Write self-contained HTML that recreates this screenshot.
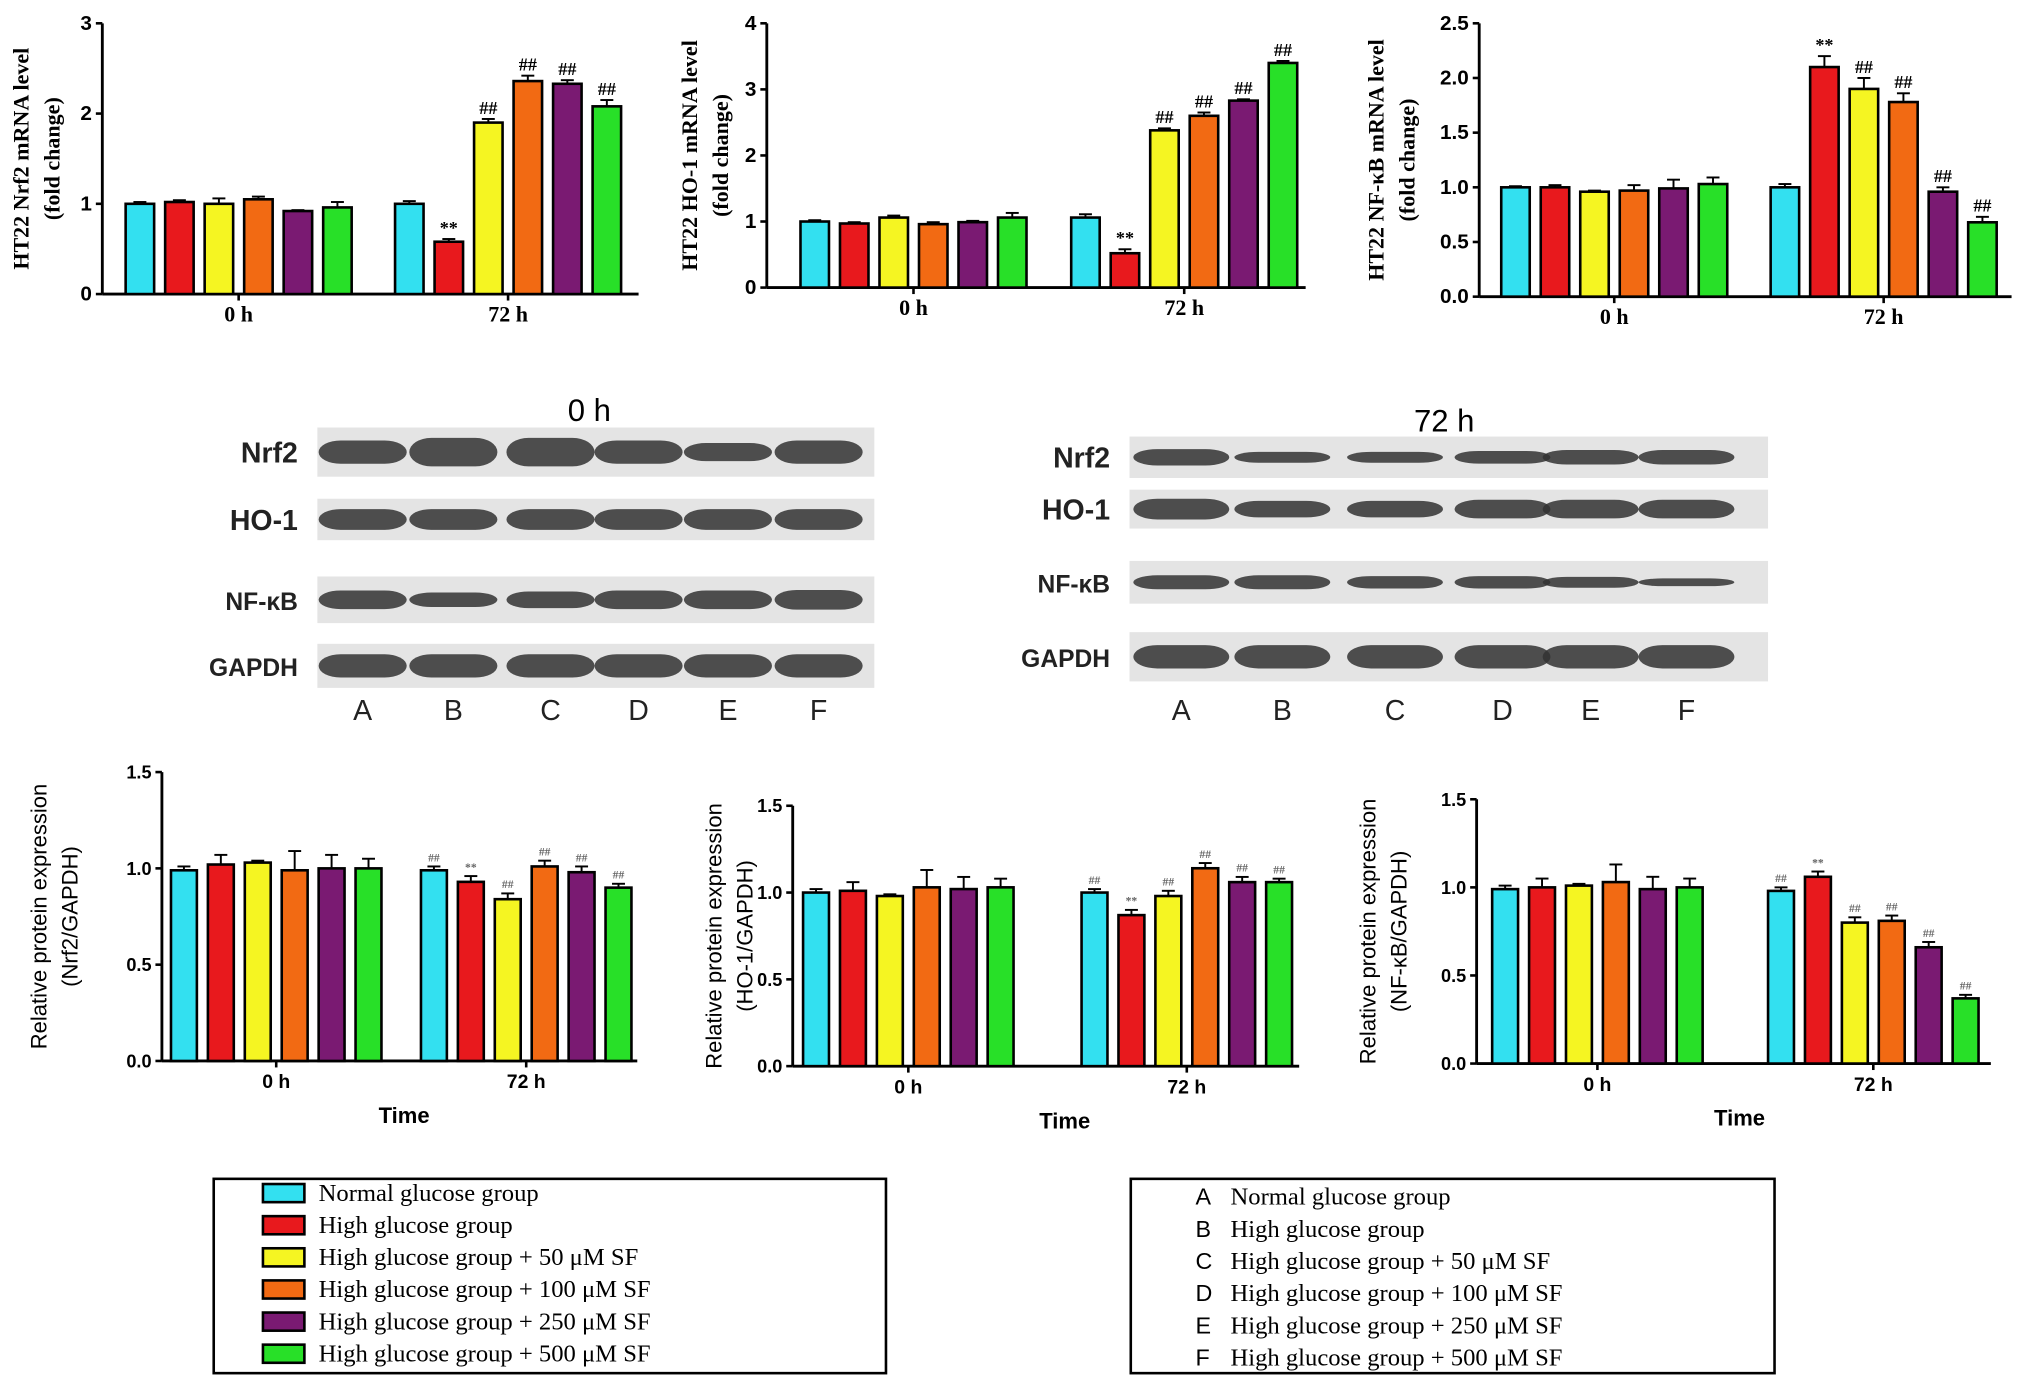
<!DOCTYPE html>
<html><head><meta charset="utf-8">
<style>
html,body{margin:0;padding:0;background:#fff;}
svg{display:block;}
text{font-family:"Liberation Serif",serif;}
.sans{font-family:"Liberation Sans",sans-serif;}
</style></head>
<body>
<svg id="fig" width="2031" height="1390" viewBox="0 0 1568 1073" preserveAspectRatio="none" xmlns="http://www.w3.org/2000/svg">
<rect x="0" y="0" width="1568" height="1073" fill="#fff"/>
</svg>
<script>
const groups = ["0 h", "72 h"];
const colors = ["#33e0f0", "#e8191d", "#f5f522", "#f26a13", "#7a1a72", "#28e028"];
const c1_0h = [1.0, 1.02, 1.0, 1.05, 0.92, 0.96];
const c1_72h = [1.0, 0.58, 1.9, 2.36, 2.33, 2.08];
const c1_err = [0.02, 0.02, 0.06, 0.03, 0.01, 0.06, 0.03, 0.03, 0.04, 0.06, 0.04, 0.07];
const c1_ticks = ["0", "1", "2", "3"];
const c2_0h = [1.0, 0.97, 1.06, 0.96, 0.99, 1.06];
const c2_72h = [1.06, 0.52, 2.38, 2.6, 2.83, 3.4];
const c2_err = [0.02, 0.02, 0.03, 0.03, 0.02, 0.07, 0.05, 0.06, 0.03, 0.05, 0.02, 0.03];
const c2_ticks = ["0", "1", "2", "3", "4"];
const c3_0h = [1.0, 1.0, 0.96, 0.97, 0.99, 1.03];
const c3_72h = [1.0, 2.1, 1.9, 1.78, 0.96, 0.68];
const c3_err = [0.01, 0.02, 0.01, 0.05, 0.08, 0.06, 0.03, 0.1, 0.1, 0.08, 0.04, 0.05];
const c3_ticks = ["0.0", "0.5", "1.0", "1.5", "2.0", "2.5"];
const b1_0h = [0.99, 1.02, 1.03, 0.99, 1.0, 1.0];
const b1_72h = [0.99, 0.93, 0.84, 1.01, 0.98, 0.9];
const b2_0h = [1.0, 1.01, 0.98, 1.03, 1.02, 1.03];
const b2_72h = [1.0, 0.87, 0.98, 1.14, 1.06, 1.06];
const b3_0h = [0.99, 1.0, 1.01, 1.03, 0.99, 1.0];
const b3_72h = [0.98, 1.06, 0.8, 0.81, 0.66, 0.37];
const b_err = [0.02, 0.05, 0.01, 0.1, 0.07, 0.05, 0.02, 0.03, 0.03, 0.03, 0.03, 0.02];
const b_ticks = ["0.0", "0.5", "1.0", "1.5"];
const c_marks = ["", "**", "##", "##", "##", "##"];
const b1_marks = ["##", "**", "##", "##", "##", "##"];
const legendLabels = ["Normal glucose group", "High glucose group", "High glucose group + 50 μM SF", "High glucose group + 100 μM SF", "High glucose group + 250 μM SF", "High glucose group + 500 μM SF"];
const lanes = ["A", "B", "C", "D", "E", "F"];

const NS = "http://www.w3.org/2000/svg";
const svg = document.getElementById("fig");
function mk(tag, attrs, parent, txt) {
  const e = document.createElementNS(NS, tag);
  for (const k in attrs) e.setAttribute(k, attrs[k]);
  if (txt !== undefined) e.textContent = txt;
  (parent || svg).appendChild(e);
  return e;
}

function chart(cfg) {
  const g = mk("g", {});
  
  
  const yScale = v => cfg.y0 - (v / cfg.max) * (cfg.y0 - cfg.y1);
  const ax = mk("line", {x1: cfg.ax, y1: cfg.y1, x2: cfg.ax, y2: cfg.y0, stroke: "#000", "stroke-width": 2.2}, g);
  
  
  const xa = mk("line", {x1: cfg.ax, y1: cfg.y0, x2: cfg.xEnd, y2: cfg.y0, stroke: "#000", "stroke-width": 2.2}, g);
  
  
  cfg.ticks.forEach((t) => {
    const v = parseFloat(t);
    const y = yScale(v);
    mk("line", {x1: cfg.ax - 5, y1: y, x2: cfg.ax, y2: y, stroke: "#000", "stroke-width": 2}, g);
    const tl = mk("text", {x: cfg.ax - 8, y: y + 5, "text-anchor": "end", "font-size": cfg.tickSize, "font-weight": "bold", class: "sans"}, g, t);
    
    
  });
  const sets = [cfg.d0, cfg.d1];
  sets.forEach((arr, gi) => {
    const gx = cfg.gx[gi];
    arr.forEach((v, i) => {
      const x = gx + i * cfg.pitch;
      const y = yScale(v);
      const e = cfg.err[gi * 6 + i];
      const ey = yScale(v + e);
      mk("line", {x1: x + cfg.bw / 2, y1: y, x2: x + cfg.bw / 2, y2: ey, stroke: "#000", "stroke-width": 1.5}, g);
      mk("line", {x1: x + cfg.bw / 2 - 5, y1: ey, x2: x + cfg.bw / 2 + 5, y2: ey, stroke: "#000", "stroke-width": 1.5}, g);
      const r = mk("rect", {x: x, y: y, width: cfg.bw, height: cfg.y0 - y, fill: colors[i], stroke: "#000", "stroke-width": 2}, g);
      
      
      if (gi === 1 && cfg.marks[i]) {
        const m = mk("text", {x: x + cfg.bw / 2, y: ey - 4, "text-anchor": "middle", "font-size": cfg.markSize, "font-weight": "bold", fill: cfg.markFill}, g, cfg.marks[i]);
        
        
      }
    });
    const cx = gx + (5 * cfg.pitch + cfg.bw) / 2;
    mk("line", {x1: cx, y1: cfg.y0, x2: cx, y2: cfg.y0 + 5, stroke: "#000", "stroke-width": 2}, g);
    const gl = mk("text", {x: cx, y: cfg.y0 + 21, "text-anchor": "middle", "font-size": cfg.sans ? 15 : 17, "font-weight": "bold", class: cfg.sans ? "sans" : ""}, g, groups[gi]);
    
    
  });
  if (cfg.time) {
    const t = mk("text", {x: cfg.time, y: cfg.y0 + 48, "text-anchor": "middle", "font-size": 17, "font-weight": "bold", class: "sans"}, g, "Time");
    
    
  }
  cfg.titles.forEach((tt, i) => {
    const x = cfg.tx + i * 24;
    const y = (cfg.y0 + cfg.y1) / 2;
    const t = mk("text", {x: x, y: y, transform: `rotate(-90 ${x} ${y})`, "text-anchor": "middle", "font-size": 17, "font-weight": cfg.sans ? "normal" : "bold", class: cfg.sans ? "sans" : ""}, g, tt);
    
    
  });
}

const topCfg = {bw: 22, pitch: 30.5, markSize: 14, markFill: "#000", sans: false, tickSize: 16};
chart(Object.assign({}, topCfg, {name: "chart-nrf2-mrna", ax: 79, y0: 227, y1: 18, max: 3, xEnd: 493, gx: [97, 305], d0: c1_0h, d1: c1_72h, err: c1_err, ticks: c1_ticks, marks: c_marks, titles: ["HT22 Nrf2 mRNA level", "(fold change)"], tx: 22}));
chart(Object.assign({}, topCfg, {name: "chart-ho1-mrna", ax: 592, y0: 222, y1: 18, max: 4, xEnd: 1008, gx: [618, 827], d0: c2_0h, d1: c2_72h, err: c2_err, ticks: c2_ticks, marks: c_marks, titles: ["HT22 HO-1 mRNA level", "(fold change)"], tx: 538}));
chart(Object.assign({}, topCfg, {name: "chart-nfkb-mrna", ax: 1142, y0: 229, y1: 18, max: 2.5, xEnd: 1553, gx: [1159, 1367], d0: c3_0h, d1: c3_72h, err: c3_err, ticks: c3_ticks, marks: c_marks, titles: ["HT22 NF-κB mRNA level", "(fold change)"], tx: 1068}));

const botCfg = {bw: 20, pitch: 28.5, markSize: 9, markFill: "#666", sans: true, tickSize: 14};
chart(Object.assign({}, botCfg, {name: "chart-nrf2-protein", ax: 125, y0: 819, y1: 596, max: 1.5, xEnd: 492, gx: [132, 325], d0: b1_0h, d1: b1_72h, err: b_err, ticks: b_ticks, marks: b1_marks, titles: ["Relative protein expression", "(Nrf2/GAPDH)"], tx: 36, time: 312}));
chart(Object.assign({}, botCfg, {name: "chart-ho1-protein", ax: 612, y0: 823, y1: 622, max: 1.5, xEnd: 1003, gx: [620, 835], d0: b2_0h, d1: b2_72h, err: b_err, ticks: b_ticks, marks: b1_marks, titles: ["Relative protein expression", "(HO-1/GAPDH)"], tx: 557, time: 822}));
chart(Object.assign({}, botCfg, {name: "chart-nfkb-protein", ax: 1140, y0: 821, y1: 617, max: 1.5, xEnd: 1537, gx: [1152, 1365], d0: b3_0h, d1: b3_72h, err: b_err, ticks: b_ticks, marks: b1_marks, titles: ["Relative protein expression", "(NF-κB/GAPDH)"], tx: 1062, time: 1343}));

function blot(name, x0, x1, rows, lanesX, bandW, title, titleX, titleY) {
  const g = mk("g", {});
  
  
  const tt = mk("text", {x: titleX, y: titleY, "text-anchor": "middle", "font-size": 24, class: "sans"}, g, title);
  
  
  rows.forEach(r => {
    mk("rect", {x: x0, y: r.y, width: x1 - x0, height: r.h, fill: "#e4e4e4"}, g);
    lanesX.forEach((lx, i) => {
      const h = 2 * r.bh * r.s[i];
      const b = mk("rect", {x: lx - bandW / 2, y: r.y + r.h / 2 - h / 2, width: bandW, height: h, rx: bandW / 4, ry: h / 2, fill: "#333", opacity: 0.85}, g);
      
      
    });
    const l = mk("text", {x: x0 - 15, y: r.y + r.h / 2 + 8, "text-anchor": "end", "font-size": r.fs, "font-weight": "bold", class: "sans", fill: "#222"}, g, r.label);
    
    
  });
  lanesX.forEach((lx, i) => {
    const t = mk("text", {x: lx, y: 556, "text-anchor": "middle", "font-size": 22, class: "sans", fill: "#222"}, g, lanes[i]);
    
    
  });
}
blot("blot-0h", 245, 675, [
  {label: "Nrf2", y: 330, h: 38, bh: 10, fs: 22, s: [0.9, 1.1, 1.1, 0.9, 0.7, 0.9]},
  {label: "HO-1", y: 385, h: 32, bh: 8, fs: 22, s: [1, 1, 1, 1, 1, 1]},
  {label: "NF-κB", y: 445, h: 36, bh: 8, fs: 19, s: [0.9, 0.7, 0.8, 0.9, 0.9, 0.95]},
  {label: "GAPDH", y: 497, h: 34, bh: 9, fs: 19, s: [1, 1, 1, 1, 1, 1]}
], [280, 350, 425, 493, 562, 632], 68, "0 h", 455, 325);
blot("blot-72h", 872, 1365, [
  {label: "Nrf2", y: 337, h: 32, bh: 7, fs: 22, s: [0.9, 0.6, 0.6, 0.7, 0.8, 0.8]},
  {label: "HO-1", y: 378, h: 30, bh: 8, fs: 22, s: [1, 0.8, 0.8, 0.9, 0.9, 0.9]},
  {label: "NF-κB", y: 433, h: 33, bh: 6, fs: 19, s: [0.9, 0.9, 0.8, 0.8, 0.7, 0.5]},
  {label: "GAPDH", y: 488, h: 38, bh: 9, fs: 19, s: [1, 1, 1, 1, 1, 1]}
], [912, 990, 1077, 1160, 1228, 1302], 74, "72 h", 1115, 333);

const lg1 = mk("g", {});


mk("rect", {x: 165, y: 910, width: 519, height: 150, fill: "#fff", stroke: "#000", "stroke-width": 2}, lg1);
legendLabels.forEach((t, i) => {
  const y = 921 + i * 24.8;
  const e = mk("g", {}, lg1);
  
  
  mk("rect", {x: 203, y: y - 7, width: 32, height: 14, fill: colors[i], stroke: "#000", "stroke-width": 2}, e);
  mk("text", {x: 246, y: y + 6, "font-size": 19}, e, t);
});
const lg2 = mk("g", {});


mk("rect", {x: 873, y: 910, width: 497, height: 150, fill: "#fff", stroke: "#000", "stroke-width": 2}, lg2);
legendLabels.forEach((t, i) => {
  const y = 923 + i * 24.8;
  const e = mk("g", {}, lg2);
  
  
  mk("text", {x: 923, y: y + 7, "font-size": 18, class: "sans"}, e, lanes[i]);
  mk("text", {x: 950, y: y + 7, "font-size": 19}, e, t);
});
</script>
</body></html>
